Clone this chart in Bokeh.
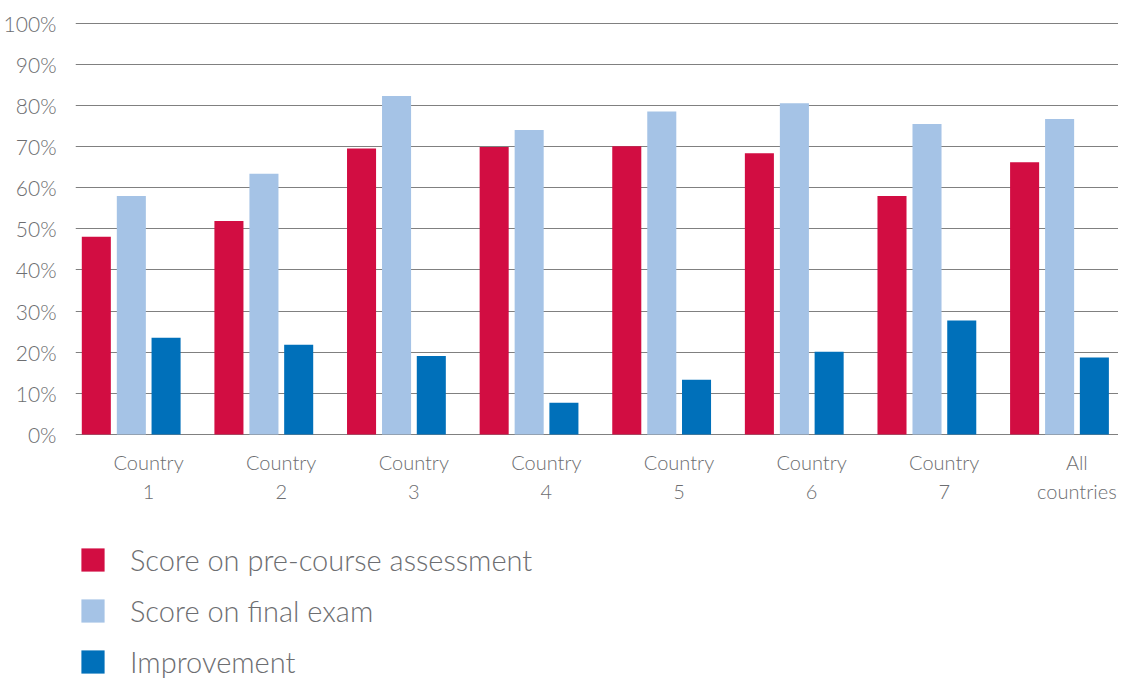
from bokeh.plotting import figure
from bokeh.models import Range1d, FixedTicker, Legend, LegendItem, ColumnDataSource
from bokeh.transform import dodge
from bokeh.core.properties import value
from bokeh.embed import file_html
from bokeh.resources import INLINE

categories = ["Country 1", "Country 2", "Country 3", "Country 4",
              "Country 5", "Country 6", "Country 7", "All countries"]
x_tick_labels = ["Country\n1", "Country\n2", "Country\n3", "Country\n4",
                 "Country\n5", "Country\n6", "Country\n7", "All\ncountries"]
pre_course = [48.1, 51.9, 69.5, 69.9, 70.1, 68.4, 58.0, 66.2]
final_exam = [58.0, 63.4, 82.3, 74.0, 78.5, 80.5, 75.5, 76.7]
improvement = [23.5, 21.8, 19.1, 7.7, 13.3, 20.1, 27.7, 18.7]
y_ticks = [0, 10, 20, 30, 40, 50, 60, 70, 80, 90, 100]
y_tick_labels = ["0%", "10%", "20%", "30%", "40%", "50%",
                 "60%", "70%", "80%", "90%", "100%"]
series_names = ["Score on pre-course assessment", "Score on final exam", "Improvement"]
series_colors = ["#D20D42", "#A5C3E6", "#0070BA"]

FONT = "Lato Light"
TEXT = "#6D6E71"
GRID = "#808080"

idx = list(range(len(categories)))
source = ColumnDataSource(dict(idx=idx, cat=categories, label=x_tick_labels,
                               pre=pre_course, final=final_exam, imp=improvement))

# frame covers chart + category labels + legend area; 0..100 is the chart part
p = figure(frame_width=1043, frame_height=658,
           x_range=Range1d(-0.421, 7.444), y_range=Range1d(-59.54, 100.4),
           output_backend="svg", toolbar_location=None,
           min_border_left=72, min_border_right=0, min_border_top=21,
           min_border_bottom=0)
p.outline_line_color = None
p.background_fill_color = "white"

renderers = []
for col, off, color in zip(["pre", "final", "imp"], [-0.264, 0.0, 0.262], series_colors):
    r = p.vbar(x=dodge("idx", off, range=p.x_range), top=col, bottom=0,
               width=0.219, source=source, fill_color=color, line_color=None)
    renderers.append(r)

# category labels under each group
p.text(x=dodge("idx", 0.13, range=p.x_range), y=0, text="label", source=source,
       y_offset=15, text_align="center", text_baseline="top",
       text_font=value(FONT), text_font_size="20px", text_color=TEXT,
       text_line_height=1.23)

p.xgrid.visible = False
p.xaxis.visible = False
p.ygrid.ticker = FixedTicker(ticks=y_ticks)
p.ygrid.grid_line_color = GRID
p.ygrid.grid_line_width = 1

yax = p.yaxis[0]
yax.ticker = FixedTicker(ticks=y_ticks)
yax.major_label_overrides = {t: l for t, l in zip(y_ticks, y_tick_labels)}
yax.axis_line_color = None
yax.major_tick_line_color = None
yax.minor_tick_line_color = None
yax.major_label_text_font = FONT
yax.major_label_text_font_size = "21px"
yax.major_label_text_color = TEXT
yax.major_label_standoff = 13

items = [LegendItem(label=n, renderers=[r]) for n, r in zip(series_names, renderers)]
legend = Legend(items=items, location=(3, 0), orientation="vertical",
                glyph_width=29, glyph_height=29, label_standoff=23,
                label_height=35, label_text_font=FONT, label_text_font_size="29px",
                label_text_color=TEXT, spacing=16, padding=0, margin=0,
                border_line_color=None, background_fill_alpha=0)
p.add_layout(legend)

open("out.html", "w").write(file_html(p, INLINE))
